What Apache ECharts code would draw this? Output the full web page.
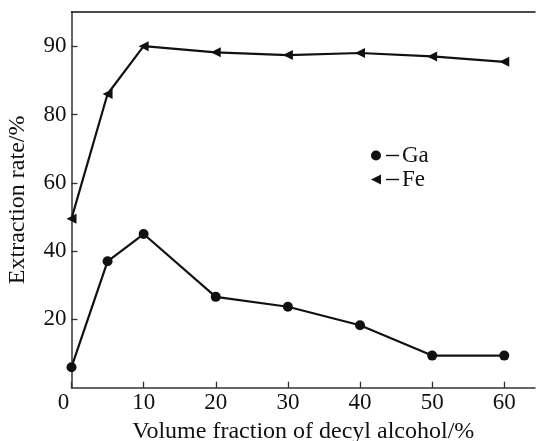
<!DOCTYPE html>
<html>
<head>
<meta charset="utf-8">
<script src="https://cdn.jsdelivr.net/npm/echarts@6/dist/echarts.min.js"></script>
<style>
  html, body { margin: 0; padding: 0; background: #fff; overflow: hidden; }
  #chart { width: 537px; height: 441px; }
</style>
</head>
<body>
<div id="chart"></div>
<script>
// Decyl alcohol volume fraction (%)
const fraction = [0, 5, 10, 20, 30, 40, 50, 60];
// Extraction rate (%) of gallium and iron
const gaRate = [6, 37, 45, 26.6, 23.7, 18.3, 9.4, 9.4];
const feRate = [49.5, 83, 90, 89.1, 88.7, 89, 88.5, 87.7];
// Y ticks shown on the axis (the span above 80 is drawn at double scale)
const yTickValues = [20, 40, 60, 80, 90];
const xTickValues = [0, 10, 20, 30, 40, 50, 60];
const seriesNames = ['Ga', 'Fe'];

// Broken-axis mapping: values above the break are stretched 2x
const BREAK = 80, STRETCH = 2;
const toAxis = v => (v <= BREAK ? v : BREAK + (v - BREAK) * STRETCH);
const fromAxis = u => (u <= BREAK ? u : BREAK + (u - BREAK) / STRETCH);

const FONT = '"Liberation Serif", "Times New Roman", serif';
const INK = '#111';
const AXIS = '#333';
const X_MAX = 64.26;

const chart = echarts.init(document.getElementById('chart'), null, { renderer: 'canvas' });

const pairs = ys => fraction.map((x, i) => [x, toAxis(ys[i])]);
const yTickPositions = yTickValues.map(toAxis);

chart.setOption({
  animation: false,
  backgroundColor: '#fff',
  grid: {
    show: false,
    left: 71.5, right: 2, top: 12, bottom: 53.3,
    outerBoundsMode: 'none'
  },
  xAxis: [
    {
      type: 'value', min: 0, max: X_MAX, interval: 10,
      name: 'Volume fraction of decyl alcohol/%',
      nameLocation: 'middle', nameGap: 23,
      nameTextStyle: { fontFamily: FONT, fontSize: 24, color: INK },
      axisLine: { lineStyle: { color: AXIS, width: 1.5 } },
      axisTick: {
        inside: true, length: 6, customValues: xTickValues,
        lineStyle: { color: AXIS, width: 1.3 }
      },
      splitLine: { show: false },
      axisLabel: {
        margin: 4, fontFamily: FONT, fontSize: 23, color: INK,
        customValues: xTickValues,
        formatter: v => (v === 0 ? '{z|0}' : String(v)),
        rich: { z: { fontFamily: FONT, fontSize: 23, color: INK, padding: [0, 16, 0, 0] } }
      }
    },
    {
      // plain frame line along the top of the plot
      type: 'value', position: 'top', min: 0, max: X_MAX,
      axisLine: { show: true, onZero: false, lineStyle: { color: INK, width: 1.5 } },
      axisTick: { show: false }, axisLabel: { show: false }, splitLine: { show: false }
    }
  ],
  yAxis: {
    type: 'value', min: 0, max: 110, interval: 20,
    name: 'Extraction rate/%',
    nameLocation: 'middle', nameGap: 42,
    nameTextStyle: { fontFamily: FONT, fontSize: 24, color: INK },
    axisLine: { lineStyle: { color: AXIS, width: 1.5 } },
    axisTick: {
      inside: true, length: 6, customValues: yTickPositions,
      lineStyle: { color: AXIS, width: 1.3 }
    },
    splitLine: { show: false },
    axisLabel: {
      margin: 5, fontFamily: FONT, fontSize: 23, color: INK,
      customValues: yTickPositions,
      formatter: u => String(fromAxis(u))
    }
  },
  legend: {
    orient: 'vertical', left: 366, top: 139, itemGap: 1,
    itemWidth: 10, itemHeight: 10,
    data: [
      { name: seriesNames[0], icon: 'circle' },
      { name: seriesNames[1], icon: 'path://M0,5L10,0L10,10Z' }
    ],
    textStyle: {
      fontFamily: FONT, fontSize: 23, color: INK,
      rich: {
        bar: { width: 13, height: 1.4, backgroundColor: INK },
        sp: { width: 3 }
      }
    },
    formatter: name => '{bar|}{sp|}' + name
  },
  series: [
    {
      name: seriesNames[0], type: 'line', data: pairs(gaRate),
      symbol: 'circle', symbolSize: 10,
      lineStyle: { color: INK, width: 2.2 },
      itemStyle: { color: INK }
    },
    {
      name: seriesNames[1], type: 'line', data: pairs(feRate),
      symbol: 'triangle', symbolSize: 10, symbolRotate: 90,
      lineStyle: { color: INK, width: 2.2 },
      itemStyle: { color: INK }
    }
  ]
});
</script>
</body>
</html>
